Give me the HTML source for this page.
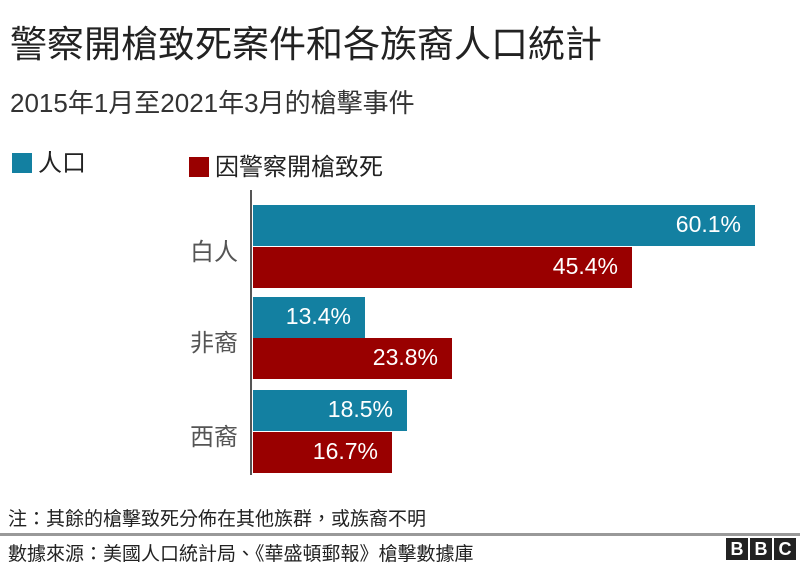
<!DOCTYPE html>
<html><head><meta charset="utf-8"><style>
body{margin:0;width:800px;height:562px;background:#fff;position:relative;overflow:hidden;font-family:"Liberation Sans","Noto Sans CJK TC",sans-serif;color:#222}
.a{position:absolute;white-space:nowrap}
.bar{position:absolute;left:253px;height:41px}
.b{background:#1380a1}.r{background:#990000}
.v{position:absolute;right:14px;top:6px;color:#fff;font-size:23px}
.cat{position:absolute;font-size:24px;color:#555;right:562px}
.bx{display:inline-block;width:20px;height:20px;vertical-align:-2px;margin-right:6px}
.l{display:inline-block;width:22px;height:22px;background:#222;color:#fff;font-weight:bold;font-size:18px;text-align:center;line-height:22px;margin-left:2px}
</style></head><body>
<div class="a" style="left:10px;top:14px;font-size:37px;color:#222">警察開槍致死案件和各族裔人口統計</div>
<div class="a" style="left:10px;top:83px;font-size:26px;color:#333">2015年1月至2021年3月的槍擊事件</div>
<div class="a" style="left:12px;top:143px;font-size:24px"><span class="bx" style="background:#1380a1"></span>人口</div>
<div class="a" style="left:189px;top:147px;font-size:24px"><span class="bx" style="background:#990000"></span>因警察開槍致死</div>
<div class="a" style="left:250px;top:190px;width:2px;height:285px;background:#555"></div>
<div class="bar b" style="top:205px;width:502px"><span class="v">60.1%</span></div>
<div class="bar r" style="top:247px;width:379px"><span class="v">45.4%</span></div>
<div class="bar b" style="top:297px;width:112px"><span class="v">13.4%</span></div>
<div class="bar r" style="top:338px;width:199px"><span class="v">23.8%</span></div>
<div class="bar b" style="top:390px;width:154px"><span class="v">18.5%</span></div>
<div class="bar r" style="top:432px;width:139px"><span class="v">16.7%</span></div>
<div class="cat" style="top:232px">白人</div>
<div class="cat" style="top:323px">非裔</div>
<div class="cat" style="top:417px">西裔</div>
<div class="a" style="left:8px;top:504px;font-size:19px">注：其餘的槍擊致死分佈在其他族群，或族裔不明</div>
<div class="a" style="left:0;top:533px;width:800px;height:3px;background:#999"></div>
<div class="a" style="left:8px;top:539px;font-size:19px">數據來源：美國人口統計局、《華盛頓郵報》槍擊數據庫</div>
<div class="a" style="left:724px;top:538px"><span class="l">B</span><span class="l">B</span><span class="l">C</span></div>
</body></html>
